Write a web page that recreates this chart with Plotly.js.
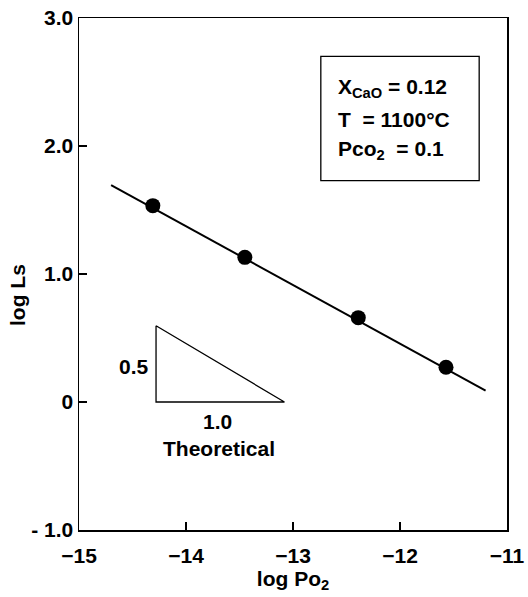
<!DOCTYPE html>
<html>
<head>
<meta charset="utf-8">
<script src="https://cdn.plot.ly/plotly-3.0.1.min.js"></script>
<style>
html,body{margin:0;padding:0;background:#fff;}
#chart{width:528px;height:597px;}
</style>
</head>
<body>
<div id="chart"></div>
<script>
// Measured data points
var logPo2 = [-14.31, -13.45, -12.39, -11.57];
var logLs = [1.534, 1.13, 0.659, 0.271];
// Fitted line endpoints
var fitX = [-14.70, -11.20];
var fitY = [1.695, 0.088];
// Theoretical slope triangle
var triX = [-14.28, -14.28, -13.08, -14.28];
var triY = [0.596, 0.0, 0.0, 0.596];
// Axis ticks
var xTickVals = [-15, -14, -13, -12, -11];
var xTickText = ['\u221215', '\u221214', '\u221213', '\u221212', '\u221211'];
var yTickVals = [-1, 0, 1, 2, 3];
var yTickText = ['- 1.0', '0', '1.0', '2.0', '3.0'];

var ink = '#000';
var fnt = 'Liberation Sans, Arial, Helvetica, sans-serif';
function F(sz) { return {size: sz, family: fnt, color: ink, weight: 'bold'}; }

var traces = [
  {x: fitX, y: fitY, mode: 'lines', line: {color: ink, width: 2}, hoverinfo: 'skip'},
  {x: triX, y: triY, mode: 'lines', line: {color: ink, width: 1.3}, hoverinfo: 'skip'},
  {x: logPo2, y: logLs, mode: 'markers', marker: {color: ink, size: 15}}
];

var layout = {
  width: 528, height: 597,
  margin: {l: 79, r: 21, t: 18, b: 67},
  paper_bgcolor: '#fff', plot_bgcolor: '#fff',
  showlegend: false,
  font: F(21),
  xaxis: {
    range: [-15, -11], tickvals: xTickVals, ticktext: xTickText,
    ticks: 'inside', ticklen: 8, tickwidth: 1.3, tickcolor: ink,
    showline: true, mirror: true, linecolor: ink, linewidth: 1.5,
    showgrid: false, zeroline: false, ticklabelstandoff: 6,
    tickfont: F(21),
    title: {text: 'log Po<sub>2</sub>', font: F(21), standoff: 0}
  },
  yaxis: {
    range: [-1, 3], tickvals: yTickVals, ticktext: yTickText,
    ticks: 'inside', ticklen: 8, tickwidth: 1.3, tickcolor: ink,
    showline: true, mirror: true, linecolor: ink, linewidth: 1.5,
    showgrid: false, zeroline: false,
    tickfont: F(21)
  },
  shapes: [
    {type: 'rect', xref: 'x', yref: 'y', x0: -12.74, x1: -11.26, y0: 1.73, y1: 2.70,
     line: {color: ink, width: 1.3}, fillcolor: 'rgba(0,0,0,0)'}
  ],
  annotations: [
    {xref: 'paper', yref: 'paper', x: -0.1425, y: 0.459, xanchor: 'center', yanchor: 'middle',
     text: 'log Ls', textangle: -90, showarrow: false, font: F(21)},
    {xref: 'x', yref: 'y', x: -12.60, y: 2.45, xanchor: 'left', text: 'X<sub>CaO</sub> = 0.12',
     showarrow: false, font: F(21)},
    {xref: 'x', yref: 'y', x: -12.60, y: 2.21, xanchor: 'left', text: 'T  = 1100\u00B0C',
     showarrow: false, font: F(21)},
    {xref: 'x', yref: 'y', x: -12.60, y: 1.97, xanchor: 'left', text: 'Pco<sub>2</sub>  = 0.1',
     showarrow: false, font: F(21)},
    {xref: 'x', yref: 'y', x: -14.33, y: 0.28, xanchor: 'right', text: '0.5',
     showarrow: false, font: F(21)},
    {xref: 'x', yref: 'y', x: -13.71, y: -0.15, text: '1.0',
     showarrow: false, font: F(21)},
    {xref: 'x', yref: 'y', x: -13.69, y: -0.36, text: 'Theoretical',
     showarrow: false, font: F(21)}
  ]
};

Plotly.newPlot('chart', traces, layout, {displayModeBar: false, staticPlot: true});
</script>
</body>
</html>
